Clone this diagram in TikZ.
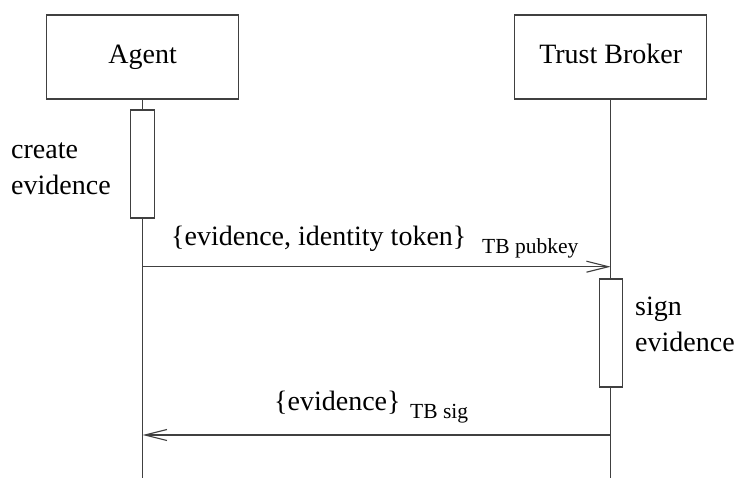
\documentclass[tikz,border=0pt]{standalone}
\usepackage{fontspec}
\setmainfont{Liberation Serif}
\usetikzlibrary{arrows.meta}

\tikzset{
  seqline/.style={draw=black!75, line width=1.2pt},
  actor/.style={seqline, rectangle, minimum width=192pt, minimum height=84pt,
    inner sep=0pt},
  activation/.style={seqline, rectangle, fill=white, minimum width=24pt,
    minimum height=108pt, inner sep=0pt},
  txt/.style={inner sep=0pt, font=\fontsize{28}{36}\selectfont},
  subtxt/.style={inner sep=0pt, font=\fontsize{21.5}{25}\selectfont},
  note/.style={txt, align=left},
  msg/.style={seqline, -{Straight Barb[length=22pt, width=11pt, line width=1.1pt]}},
}

\begin{document}
\begin{tikzpicture}[x=1pt, y=-1pt]
  \useasboundingbox (0,0) rectangle (738,478);

  % participants
  \node[actor] (agent) at (142.7,57) {};
  \node[txt, anchor=base] (agentname) at (142.7,63.3) {Agent};
  \node[actor] (broker) at (610.7,57) {};
  \node[txt, anchor=base] (brokername) at (610.7,63.3) {Trust Broker};

  % activation bars
  \node[activation] (agentact) at (142.7,164) {};
  \node[activation, minimum width=23pt] (brokeract) at (610.7,333) {};

  % lifeline ends
  \coordinate (agentend) at (142.7,478);
  \coordinate (brokerend) at (610.7,478);

  % lifelines
  \draw[seqline] (agent.south) -- (agentact.north);
  \draw[seqline] (agentact.south) -- (agentend);
  \draw[seqline] (broker.south) -- (brokeract.north);
  \draw[seqline] (brokeract.south) -- (brokerend);

  % messages
  \coordinate (m1from) at (142.7,266.7);
  \coordinate (m1to) at (610.7,266.7);
  \coordinate (m2from) at (610.7,435);
  \coordinate (m2to) at (142.7,435);
  \draw[msg] (m1from) -- (m1to);
  \draw[msg] (m2from) -- (m2to);

  % message labels
  \node[txt, anchor=base west] (m1label) at (171,245.5) {\{evidence, identity token\}};
  \node[subtxt, anchor=base west] (m1sub) at (482,253) {TB pubkey};
  \node[txt, anchor=base west] (m2label) at (274,410) {\{evidence\}};
  \node[subtxt, anchor=base west] (m2sub) at (410,418) {TB sig};

  % activity notes (anchored at the baseline of the last line)
  \node[note, anchor=base west] (createnote) at (11,194.3) {create\\evidence};
  \node[note, anchor=base west] (signnote) at (635,351) {sign\\evidence};
\end{tikzpicture}
\end{document}
